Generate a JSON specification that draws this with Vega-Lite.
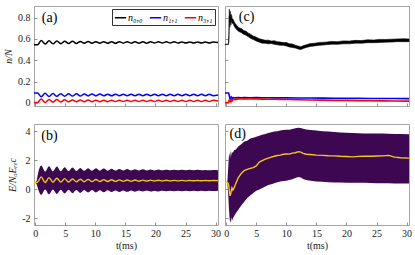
{
  "$schema": "https://vega.github.io/schema/vega-lite/v6.json",
  "autosize": {"type": "pad"},
  "padding": {"left": 3, "top": 5, "right": 3, "bottom": 3},
  "background": "white",
  "config": {
    "font": "Liberation Serif",
    "view": {"stroke": "#a6a6a6", "strokeWidth": 1},
    "axis": {"domain": false, "grid": false, "tickSize": -3, "tickColor": "#777", "tickWidth": 0.8,
      "labelOverlap": false, "labelFlush": false, "labelBound": false,
      "labelFont": "Liberation Serif", "labelFontSize": 10, "labelColor": "#222", "labelPadding": 7,
      "titleFont": "Liberation Serif", "titleFontSize": 10, "titleFontWeight": "normal", "titleColor": "#222", "titlePadding": 4},
    "legend": {"labelFont": "Liberation Serif"}
  },
  "datasets": {
    "pa": [
      {"t":-0.2,"n00":0.545,"n11":0.092,"n31":0.004},
      {"t":0.4,"n00":0.545,"n11":0.092,"n31":0.004},
      {"t":1.0,"n00":0.586,"n11":0.057,"n31":0.035},
      {"t":1.65,"n00":0.552,"n11":0.090,"n31":0.004},
      {"t":2.3,"n00":0.583,"n11":0.059,"n31":0.032},
      {"t":2.95,"n00":0.554,"n11":0.088,"n31":0.006},
      {"t":3.6,"n00":0.581,"n11":0.061,"n31":0.030},
      {"t":4.25,"n00":0.556,"n11":0.086,"n31":0.008},
      {"t":4.9,"n00":0.579,"n11":0.062,"n31":0.029},
      {"t":5.55,"n00":0.557,"n11":0.085,"n31":0.009},
      {"t":6.2,"n00":0.578,"n11":0.063,"n31":0.027},
      {"t":6.85,"n00":0.558,"n11":0.084,"n31":0.010},
      {"t":7.5,"n00":0.577,"n11":0.064,"n31":0.026},
      {"t":8.15,"n00":0.559,"n11":0.083,"n31":0.010},
      {"t":8.8,"n00":0.576,"n11":0.065,"n31":0.026},
      {"t":9.45,"n00":0.559,"n11":0.082,"n31":0.011},
      {"t":10.1,"n00":0.575,"n11":0.065,"n31":0.025},
      {"t":10.75,"n00":0.560,"n11":0.082,"n31":0.011},
      {"t":11.4,"n00":0.575,"n11":0.066,"n31":0.025},
      {"t":12.05,"n00":0.560,"n11":0.081,"n31":0.011},
      {"t":12.7,"n00":0.574,"n11":0.066,"n31":0.024},
      {"t":13.35,"n00":0.560,"n11":0.081,"n31":0.012},
      {"t":14.0,"n00":0.574,"n11":0.067,"n31":0.024},
      {"t":14.65,"n00":0.561,"n11":0.080,"n31":0.012},
      {"t":15.3,"n00":0.574,"n11":0.067,"n31":0.024},
      {"t":15.95,"n00":0.561,"n11":0.080,"n31":0.012},
      {"t":16.6,"n00":0.573,"n11":0.067,"n31":0.024},
      {"t":17.25,"n00":0.561,"n11":0.080,"n31":0.012},
      {"t":17.9,"n00":0.573,"n11":0.067,"n31":0.024},
      {"t":18.55,"n00":0.561,"n11":0.080,"n31":0.012},
      {"t":19.2,"n00":0.573,"n11":0.067,"n31":0.024},
      {"t":19.85,"n00":0.562,"n11":0.080,"n31":0.012},
      {"t":20.5,"n00":0.573,"n11":0.067,"n31":0.024},
      {"t":21.15,"n00":0.562,"n11":0.080,"n31":0.012},
      {"t":21.8,"n00":0.573,"n11":0.067,"n31":0.024},
      {"t":22.45,"n00":0.562,"n11":0.080,"n31":0.012},
      {"t":23.1,"n00":0.573,"n11":0.067,"n31":0.024},
      {"t":23.75,"n00":0.562,"n11":0.080,"n31":0.012},
      {"t":24.4,"n00":0.572,"n11":0.067,"n31":0.024},
      {"t":25.05,"n00":0.562,"n11":0.080,"n31":0.012},
      {"t":25.7,"n00":0.572,"n11":0.067,"n31":0.024},
      {"t":26.35,"n00":0.562,"n11":0.080,"n31":0.012},
      {"t":27.0,"n00":0.572,"n11":0.067,"n31":0.024},
      {"t":27.65,"n00":0.562,"n11":0.080,"n31":0.012},
      {"t":28.3,"n00":0.572,"n11":0.067,"n31":0.024},
      {"t":28.95,"n00":0.562,"n11":0.080,"n31":0.012},
      {"t":29.6,"n00":0.572,"n11":0.067,"n31":0.024},
      {"t":30.4,"n00":0.566,"n11":0.074,"n31":0.018}
    ],
    "pb": [
      {"t":-0.2,"m":0.47,"lo":0.47,"hi":0.47},
      {"t":0.2,"m":0.47,"lo":0.38,"hi":0.56},
      {"t":0.5,"m":0.55,"lo":0.0,"hi":1.15},
      {"t":1.0,"m":0.86,"lo":-0.37,"hi":1.64},
      {"t":1.65,"m":0.47,"lo":0.0,"hi":1.23},
      {"t":2.3,"m":0.81,"lo":-0.34,"hi":1.60},
      {"t":2.95,"m":0.49,"lo":-0.01,"hi":1.24},
      {"t":3.6,"m":0.77,"lo":-0.31,"hi":1.57},
      {"t":4.25,"m":0.50,"lo":-0.02,"hi":1.25},
      {"t":4.9,"m":0.74,"lo":-0.28,"hi":1.53},
      {"t":5.55,"m":0.51,"lo":-0.03,"hi":1.26},
      {"t":6.2,"m":0.72,"lo":-0.26,"hi":1.51},
      {"t":6.85,"m":0.52,"lo":-0.04,"hi":1.27},
      {"t":7.5,"m":0.70,"lo":-0.24,"hi":1.48},
      {"t":8.15,"m":0.53,"lo":-0.05,"hi":1.28},
      {"t":8.8,"m":0.69,"lo":-0.22,"hi":1.46},
      {"t":9.45,"m":0.535,"lo":-0.05,"hi":1.28},
      {"t":10.1,"m":0.68,"lo":-0.21,"hi":1.45},
      {"t":10.75,"m":0.54,"lo":-0.06,"hi":1.29},
      {"t":11.4,"m":0.67,"lo":-0.20,"hi":1.43},
      {"t":12.05,"m":0.545,"lo":-0.065,"hi":1.29},
      {"t":12.7,"m":0.66,"lo":-0.18,"hi":1.42},
      {"t":13.35,"m":0.55,"lo":-0.07,"hi":1.295},
      {"t":14.0,"m":0.655,"lo":-0.175,"hi":1.41},
      {"t":14.65,"m":0.555,"lo":-0.07,"hi":1.30},
      {"t":15.3,"m":0.65,"lo":-0.17,"hi":1.40},
      {"t":15.95,"m":0.56,"lo":-0.075,"hi":1.30},
      {"t":16.6,"m":0.645,"lo":-0.16,"hi":1.39},
      {"t":17.25,"m":0.565,"lo":-0.08,"hi":1.30},
      {"t":17.9,"m":0.64,"lo":-0.15,"hi":1.38},
      {"t":18.55,"m":0.57,"lo":-0.08,"hi":1.30},
      {"t":19.2,"m":0.635,"lo":-0.145,"hi":1.37},
      {"t":19.85,"m":0.575,"lo":-0.085,"hi":1.30},
      {"t":20.5,"m":0.63,"lo":-0.14,"hi":1.37},
      {"t":21.15,"m":0.58,"lo":-0.09,"hi":1.31},
      {"t":21.8,"m":0.625,"lo":-0.135,"hi":1.36},
      {"t":22.45,"m":0.58,"lo":-0.09,"hi":1.31},
      {"t":23.1,"m":0.62,"lo":-0.13,"hi":1.355},
      {"t":23.75,"m":0.585,"lo":-0.09,"hi":1.31},
      {"t":24.4,"m":0.62,"lo":-0.125,"hi":1.35},
      {"t":25.05,"m":0.585,"lo":-0.09,"hi":1.31},
      {"t":25.7,"m":0.615,"lo":-0.125,"hi":1.35},
      {"t":26.35,"m":0.59,"lo":-0.09,"hi":1.31},
      {"t":27.0,"m":0.615,"lo":-0.12,"hi":1.345},
      {"t":27.65,"m":0.59,"lo":-0.09,"hi":1.31},
      {"t":28.3,"m":0.61,"lo":-0.12,"hi":1.34},
      {"t":28.95,"m":0.59,"lo":-0.09,"hi":1.31},
      {"t":29.6,"m":0.61,"lo":-0.115,"hi":1.34},
      {"t":30.4,"m":0.60,"lo":-0.10,"hi":1.32}
    ],
    "pcb": [
      {"t":-0.2,"lo":0.547,"hi":0.551},
      {"t":0.35,"lo":0.547,"hi":0.551},
      {"t":0.45,"lo":0.57,"hi":0.64},
      {"t":0.52,"lo":0.82,"hi":0.88},
      {"t":0.6,"lo":0.71,"hi":0.76},
      {"t":0.68,"lo":0.81,"hi":0.86},
      {"t":0.78,"lo":0.73,"hi":0.755},
      {"t":0.88,"lo":0.79,"hi":0.83},
      {"t":1.0,"lo":0.745,"hi":0.79},
      {"t":1.15,"lo":0.75,"hi":0.785},
      {"t":1.3,"lo":0.725,"hi":0.765},
      {"t":1.5,"lo":0.705,"hi":0.745},
      {"t":1.8,"lo":0.685,"hi":0.725},
      {"t":2.1,"lo":0.67,"hi":0.705},
      {"t":2.5,"lo":0.66,"hi":0.698},
      {"t":2.9,"lo":0.645,"hi":0.68},
      {"t":3.3,"lo":0.635,"hi":0.672},
      {"t":3.7,"lo":0.62,"hi":0.655},
      {"t":4.1,"lo":0.605,"hi":0.643},
      {"t":4.5,"lo":0.595,"hi":0.627},
      {"t":5.0,"lo":0.58,"hi":0.617},
      {"t":5.5,"lo":0.57,"hi":0.603},
      {"t":6.0,"lo":0.56,"hi":0.595},
      {"t":6.5,"lo":0.561,"hi":0.588},
      {"t":7.0,"lo":0.555,"hi":0.589},
      {"t":7.5,"lo":0.557,"hi":0.58},
      {"t":8.0,"lo":0.55,"hi":0.583},
      {"t":8.5,"lo":0.545,"hi":0.575},
      {"t":9.0,"lo":0.541,"hi":0.572},
      {"t":9.5,"lo":0.54,"hi":0.566},
      {"t":10.0,"lo":0.535,"hi":0.567},
      {"t":10.5,"lo":0.525,"hi":0.555},
      {"t":11.0,"lo":0.52,"hi":0.552},
      {"t":11.5,"lo":0.515,"hi":0.541},
      {"t":12.0,"lo":0.505,"hi":0.533},
      {"t":12.4,"lo":0.5,"hi":0.526},
      {"t":12.8,"lo":0.51,"hi":0.537},
      {"t":13.3,"lo":0.52,"hi":0.545},
      {"t":14.0,"lo":0.53,"hi":0.557},
      {"t":14.7,"lo":0.535,"hi":0.56},
      {"t":15.5,"lo":0.54,"hi":0.567},
      {"t":16.5,"lo":0.545,"hi":0.57},
      {"t":17.5,"lo":0.551,"hi":0.577},
      {"t":18.5,"lo":0.55,"hi":0.575},
      {"t":19.5,"lo":0.555,"hi":0.582},
      {"t":20.5,"lo":0.555,"hi":0.58},
      {"t":21.5,"lo":0.561,"hi":0.587},
      {"t":22.5,"lo":0.56,"hi":0.585},
      {"t":23.5,"lo":0.565,"hi":0.592},
      {"t":24.5,"lo":0.565,"hi":0.59},
      {"t":25.5,"lo":0.567,"hi":0.596},
      {"t":26.5,"lo":0.57,"hi":0.595},
      {"t":27.5,"lo":0.571,"hi":0.598},
      {"t":28.5,"lo":0.575,"hi":0.6},
      {"t":29.5,"lo":0.574,"hi":0.602},
      {"t":30.4,"lo":0.575,"hi":0.6}
    ],
    "pcl": [
      {"t":-0.2,"b":0.092,"r":0.003},
      {"t":0.4,"b":0.092,"r":0.003},
      {"t":0.5,"b":0.07,"r":0.03},
      {"t":0.6,"b":0.045,"r":0.008},
      {"t":0.7,"b":0.05,"r":0.035},
      {"t":0.8,"b":0.038,"r":0.015},
      {"t":0.9,"b":0.052,"r":0.032},
      {"t":1.0,"b":0.042,"r":0.02},
      {"t":1.2,"b":0.05,"r":0.034},
      {"t":1.5,"b":0.046,"r":0.03},
      {"t":2.0,"b":0.05,"r":0.037},
      {"t":2.5,"b":0.047,"r":0.036},
      {"t":3.0,"b":0.05,"r":0.038},
      {"t":4.0,"b":0.048,"r":0.036},
      {"t":5.0,"b":0.049,"r":0.037},
      {"t":6.0,"b":0.047,"r":0.035},
      {"t":7.0,"b":0.048,"r":0.034},
      {"t":8.0,"b":0.046,"r":0.033},
      {"t":9.0,"b":0.047,"r":0.032},
      {"t":10.0,"b":0.046,"r":0.031},
      {"t":12.0,"b":0.045,"r":0.029},
      {"t":14.0,"b":0.045,"r":0.027},
      {"t":16.0,"b":0.044,"r":0.025},
      {"t":18.0,"b":0.043,"r":0.023},
      {"t":20.0,"b":0.042,"r":0.022},
      {"t":22.0,"b":0.042,"r":0.02},
      {"t":24.0,"b":0.041,"r":0.019},
      {"t":26.0,"b":0.04,"r":0.018},
      {"t":28.0,"b":0.04,"r":0.017},
      {"t":30.4,"b":0.039,"r":0.016}
    ],
    "pd": [
      {"t":-0.2,"m":0.47,"lo":0.47,"hi":0.47},
      {"t":0.2,"m":0.47,"lo":0.42,"hi":0.55},
      {"t":0.35,"m":0.4,"lo":-0.4,"hi":1.6},
      {"t":0.45,"m":0.2,"lo":-1.3,"hi":2.3},
      {"t":0.55,"m":-0.2,"lo":-1.9,"hi":2.5},
      {"t":0.65,"m":-0.45,"lo":-2.3,"hi":2.1},
      {"t":0.75,"m":-0.3,"lo":-2.2,"hi":2.7},
      {"t":0.85,"m":-0.05,"lo":-1.9,"hi":2.3},
      {"t":0.95,"m":0.1,"lo":-2.2,"hi":2.6},
      {"t":1.1,"m":-0.05,"lo":-2.0,"hi":2.5},
      {"t":1.3,"m":0.1,"lo":-1.85,"hi":2.7},
      {"t":1.6,"m":0.4,"lo":-1.65,"hi":2.75},
      {"t":2.0,"m":0.8,"lo":-1.4,"hi":2.95},
      {"t":2.5,"m":1.1,"lo":-1.1,"hi":3.1},
      {"t":3.0,"m":1.3,"lo":-0.85,"hi":3.3},
      {"t":3.5,"m":1.38,"lo":-0.6,"hi":3.35},
      {"t":4.0,"m":1.45,"lo":-0.42,"hi":3.5},
      {"t":4.5,"m":1.5,"lo":-0.25,"hi":3.55},
      {"t":5.0,"m":1.62,"lo":-0.1,"hi":3.62},
      {"t":5.5,"m":1.88,"lo":0.0,"hi":3.7},
      {"t":6.0,"m":1.98,"lo":0.1,"hi":3.76},
      {"t":6.5,"m":2.08,"lo":0.2,"hi":3.82},
      {"t":7.0,"m":2.15,"lo":0.3,"hi":3.88},
      {"t":7.5,"m":2.22,"lo":0.36,"hi":3.93},
      {"t":8.0,"m":2.28,"lo":0.42,"hi":3.98},
      {"t":8.5,"m":2.33,"lo":0.5,"hi":4.0},
      {"t":9.0,"m":2.36,"lo":0.55,"hi":4.05},
      {"t":9.5,"m":2.42,"lo":0.58,"hi":4.08},
      {"t":10.0,"m":2.44,"lo":0.6,"hi":4.1},
      {"t":10.5,"m":2.43,"lo":0.65,"hi":4.1},
      {"t":11.0,"m":2.5,"lo":0.7,"hi":4.15},
      {"t":11.5,"m":2.52,"lo":0.78,"hi":4.2},
      {"t":12.0,"m":2.6,"lo":0.85,"hi":4.25},
      {"t":12.4,"m":2.56,"lo":0.82,"hi":4.22},
      {"t":12.8,"m":2.48,"lo":0.72,"hi":4.18},
      {"t":13.3,"m":2.42,"lo":0.65,"hi":4.12},
      {"t":14.0,"m":2.4,"lo":0.6,"hi":4.08},
      {"t":15.0,"m":2.36,"lo":0.55,"hi":4.05},
      {"t":16.0,"m":2.34,"lo":0.52,"hi":4.0},
      {"t":17.0,"m":2.32,"lo":0.5,"hi":3.98},
      {"t":18.0,"m":2.31,"lo":0.48,"hi":3.95},
      {"t":19.0,"m":2.28,"lo":0.47,"hi":3.92},
      {"t":20.0,"m":2.26,"lo":0.46,"hi":3.9},
      {"t":21.0,"m":2.24,"lo":0.45,"hi":3.88},
      {"t":22.0,"m":2.27,"lo":0.45,"hi":3.86},
      {"t":23.0,"m":2.29,"lo":0.45,"hi":3.85},
      {"t":24.0,"m":2.28,"lo":0.44,"hi":3.85},
      {"t":25.0,"m":2.3,"lo":0.43,"hi":3.84},
      {"t":26.0,"m":2.31,"lo":0.42,"hi":3.84},
      {"t":27.0,"m":2.34,"lo":0.42,"hi":3.83},
      {"t":28.0,"m":2.22,"lo":0.41,"hi":3.82},
      {"t":29.0,"m":2.18,"lo":0.4,"hi":3.81},
      {"t":30.4,"m":2.15,"lo":0.4,"hi":3.8}
    ]
  },
  "columns": 2,
  "spacing": {"row": 18, "column": 7},
  "bounds": "flush",
  "resolve": {"scale": {"color": "independent"}, "legend": {"color": "independent"}},
  "concat": [
    {
      "width": 184, "height": 100,
      "layer": [
        {
          "data": {"name": "pa"},
          "transform": [{"fold": ["n00", "n11", "n31"], "as": ["s", "v"]}],
          "mark": {"type": "line", "strokeWidth": 1.5, "interpolate": "monotone"},
          "encoding": {
            "x": {"field": "t", "type": "quantitative", "scale": {"domain": [-0.2, 30.4], "nice": false, "zero": false},
              "axis": {"values": [0, 5, 10, 15, 20, 25, 30], "labels": false, "title": null, "labelOverlap": false}},
            "y": {"field": "v", "type": "quantitative", "scale": {"domain": [-0.03, 0.91], "nice": false, "zero": false},
              "axis": {"values": [0, 0.2, 0.4, 0.6, 0.8], "title": "n/N", "titleFontStyle": "italic", "labelExpr": "'' + datum.value", "labelOverlap": false}},
            "color": {"field": "s", "type": "nominal",
              "scale": {"domain": ["n00", "n11", "n31"], "range": ["#000000", "#0000ff", "#ff0000"]},
              "legend": {"orient": "top-right", "direction": "horizontal", "title": null, "symbolType": "stroke",
                "symbolStrokeWidth": 1.5, "symbolSize": 130, "labelFontSize": 10, "labelFontStyle": "italic",
                "labelOffset": 1, "columnPadding": 3, "padding": 2, "offset": 3,
                "strokeColor": "#333", "fillColor": "white",
                "labelExpr": "datum.label == 'n00' ? 'n₀,₀' : datum.label == 'n11' ? 'n₁,₁' : 'n₃,₁'"}}
          }
        },
        {
          "data": {"values": [{}]},
          "mark": {"type": "text", "text": "(a)", "align": "left", "baseline": "middle", "fontSize": 14, "font": "Liberation Serif"},
          "encoding": {
            "x": {"datum": 1.1, "type": "quantitative", "axis": {"values": [0, 5, 10, 15, 20, 25, 30], "labels": false, "title": null, "labelOverlap": false}},
            "y": {"datum": 0.80, "type": "quantitative", "axis": {"values": [0, 0.2, 0.4, 0.6, 0.8], "title": "n/N", "titleFontStyle": "italic", "labelExpr": "'' + datum.value", "labelOverlap": false}}
          }
        }
      ]
    },
    {
      "width": 184, "height": 100,
      "layer": [
        {
          "data": {"name": "pcb"},
          "mark": {"type": "area", "color": "#000000", "stroke": "#000000", "strokeWidth": 0.6},
          "encoding": {
            "x": {"field": "t", "type": "quantitative", "scale": {"domain": [-0.2, 30.4], "nice": false, "zero": false},
              "axis": {"values": [0, 5, 10, 15, 20, 25, 30], "labels": false, "title": null}},
            "y": {"field": "lo", "type": "quantitative", "scale": {"domain": [-0.03, 0.91], "nice": false, "zero": false},
              "axis": {"values": [0, 0.2, 0.4, 0.6, 0.8], "labels": false, "title": null}},
            "y2": {"field": "hi"}
          }
        },
        {
          "data": {"name": "pcl"},
          "transform": [{"fold": ["b", "r"], "as": ["s", "v"]}],
          "mark": {"type": "line", "strokeWidth": 1.6},
          "encoding": {
            "x": {"field": "t", "type": "quantitative", "axis": {"values": [0, 5, 10, 15, 20, 25, 30], "labels": false, "title": null}},
            "y": {"field": "v", "type": "quantitative", "axis": {"values": [0, 0.2, 0.4, 0.6, 0.8], "labels": false, "title": null}},
            "color": {"field": "s", "type": "nominal", "scale": {"domain": ["b", "r"], "range": ["#0000ff", "#ff0000"]}, "legend": null}
          }
        },
        {
          "data": {"values": [{}]},
          "mark": {"type": "text", "text": "(c)", "align": "left", "baseline": "middle", "fontSize": 14, "font": "Liberation Serif"},
          "encoding": {
            "x": {"datum": 2.1, "type": "quantitative", "axis": {"values": [0, 5, 10, 15, 20, 25, 30], "labels": false, "title": null}},
            "y": {"datum": 0.81, "type": "quantitative", "axis": {"values": [0, 0.2, 0.4, 0.6, 0.8], "labels": false, "title": null}}
          }
        }
      ]
    },
    {
      "width": 184, "height": 101,
      "layer": [
        {
          "data": {"name": "pb"},
          "mark": {"type": "area", "color": "#3d0752", "interpolate": "monotone"},
          "encoding": {
            "x": {"field": "t", "type": "quantitative", "scale": {"domain": [-0.2, 30.4], "nice": false, "zero": false},
              "axis": {"values": [0, 5, 10, 15, 20, 25, 30], "title": "t(ms)", "labelPadding": 6, "titlePadding": 2, "labelExpr": "'' + datum.value", "labelOverlap": false}},
            "y": {"field": "lo", "type": "quantitative", "scale": {"domain": [-2.45, 4.5], "nice": false, "zero": false},
              "axis": {"values": [-2, 0, 2, 4], "title": "E/NₐEᵣₑc", "titleFontStyle": "italic", "labelExpr": "'' + datum.value", "labelOverlap": false}},
            "y2": {"field": "hi"}
          }
        },
        {
          "data": {"name": "pb"},
          "mark": {"type": "line", "color": "#f2c81c", "strokeWidth": 1.4, "interpolate": "monotone"},
          "encoding": {
            "x": {"field": "t", "type": "quantitative", "axis": {"values": [0, 5, 10, 15, 20, 25, 30], "title": "t(ms)", "labelPadding": 6, "titlePadding": 2, "labelExpr": "'' + datum.value", "labelOverlap": false}},
            "y": {"field": "m", "type": "quantitative", "axis": {"values": [-2, 0, 2, 4], "title": "E/NₐEᵣₑc", "titleFontStyle": "italic", "labelExpr": "'' + datum.value", "labelOverlap": false}}
          }
        },
        {
          "data": {"values": [{}]},
          "mark": {"type": "text", "text": "(b)", "align": "left", "baseline": "middle", "fontSize": 14, "font": "Liberation Serif"},
          "encoding": {
            "x": {"datum": 1.0, "type": "quantitative", "axis": {"values": [0, 5, 10, 15, 20, 25, 30], "title": "t(ms)", "labelPadding": 6, "titlePadding": 2, "labelExpr": "'' + datum.value", "labelOverlap": false}},
            "y": {"datum": 3.69, "type": "quantitative", "axis": {"values": [-2, 0, 2, 4], "title": "E/NₐEᵣₑc", "titleFontStyle": "italic", "labelExpr": "'' + datum.value", "labelOverlap": false}}
          }
        }
      ]
    },
    {
      "width": 184, "height": 101,
      "layer": [
        {
          "data": {"name": "pd"},
          "mark": {"type": "area", "color": "#3d0752"},
          "encoding": {
            "x": {"field": "t", "type": "quantitative", "scale": {"domain": [-0.2, 30.4], "nice": false, "zero": false},
              "axis": {"values": [0, 5, 10, 15, 20, 25, 30], "title": "t(ms)", "labelPadding": 6, "titlePadding": 2, "labelExpr": "'' + datum.value", "labelOverlap": false}},
            "y": {"field": "lo", "type": "quantitative", "scale": {"domain": [-2.45, 4.5], "nice": false, "zero": false},
              "axis": {"values": [-2, 0, 2, 4], "labels": false, "title": null}},
            "y2": {"field": "hi"}
          }
        },
        {
          "data": {"name": "pd"},
          "mark": {"type": "line", "color": "#f2c81c", "strokeWidth": 1.4},
          "encoding": {
            "x": {"field": "t", "type": "quantitative", "axis": {"values": [0, 5, 10, 15, 20, 25, 30], "title": "t(ms)", "labelPadding": 6, "titlePadding": 2, "labelExpr": "'' + datum.value", "labelOverlap": false}},
            "y": {"field": "m", "type": "quantitative", "axis": {"values": [-2, 0, 2, 4], "labels": false, "title": null}}
          }
        },
        {
          "data": {"values": [{}]},
          "mark": {"type": "text", "text": "(d)", "align": "left", "baseline": "middle", "fontSize": 14, "font": "Liberation Serif"},
          "encoding": {
            "x": {"datum": 0.55, "type": "quantitative", "axis": {"values": [0, 5, 10, 15, 20, 25, 30], "title": "t(ms)", "labelPadding": 6, "titlePadding": 2, "labelExpr": "'' + datum.value", "labelOverlap": false}},
            "y": {"datum": 3.83, "type": "quantitative", "axis": {"values": [-2, 0, 2, 4], "labels": false, "title": null}}
          }
        }
      ]
    }
  ]
}
